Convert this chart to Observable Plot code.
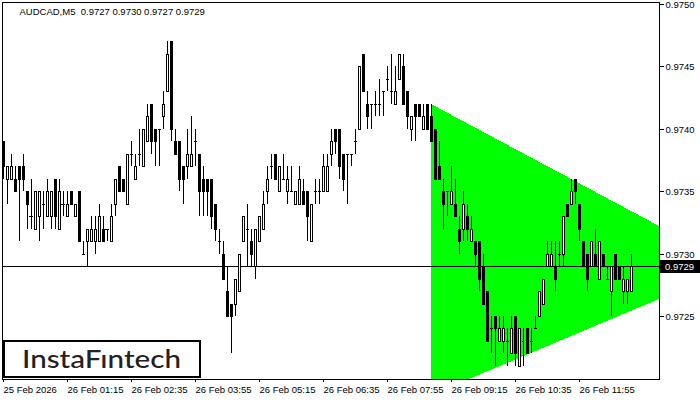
<!DOCTYPE html>
<html><head><meta charset="utf-8">
<script src="https://cdn.jsdelivr.net/npm/d3@7"></script>
<script src="https://cdn.jsdelivr.net/npm/@observablehq/plot@0.6"></script>
<style>
body{margin:0;background:#fff;}
#wrap{position:relative;width:700px;height:400px;overflow:hidden;background:#fff;}
</style></head><body><div id="wrap"></div>
<script>
const symbol = "AUDCAD,M5";
const lastOHLC = ["0.9727", "0.9730", "0.9727", "0.9729"];
const logoText = "InstaFıntech";

const open = [0.9739,0.9736,0.9736,0.9736,0.9737,0.9737,0.9735,0.9733,0.9732,0.9733,
0.9734,0.9733,0.9733,0.9736,0.9732,0.9734,0.9733,0.9735,0.9733,0.9735,
0.9730,0.9731,0.9731,0.9731,0.9731,0.9732,0.9732,0.9731,0.9734,0.9737,
0.9736,0.9734,0.9738,0.9736,0.9738,0.9737,0.9739,0.9742,0.9740,0.9740,
0.9741,0.9743,0.9747,0.9739,0.9739,0.9737,0.9737,0.9737,0.9739,0.9738,
0.9736,0.9736,0.9736,0.9734,0.9731,0.9730,0.9727,0.9726,0.9726,0.9727,
0.9731,0.9732,0.9731,0.9729,0.9731,0.9732,0.9735,0.9737,0.9738,0.9735,
0.9736,0.9735,0.9735,0.9734,0.9734,0.9735,0.9735,0.9731,0.9735,0.9735,
0.9735,0.9735,0.9738,0.9740,0.9740,0.9738,0.9738,0.9738,0.9739,0.9740,
0.9746,0.9742,0.9742,0.9742,0.9742,0.9743,0.9744,0.9743,0.9742,0.9744,
0.9745,0.9743,0.9740,0.9742,0.9742,0.9740,0.9742,0.9741,0.9740,0.9737,
0.9735,0.9735,0.9734,0.9734,0.9732,0.9732,0.9733,0.9731,0.9731,0.9731,
0.9729,0.9727,0.9724,0.9725,0.9723,0.9723,0.9723,0.9722,0.9725,0.9721,
0.9723,0.9724,0.9723,0.9724,0.9725,0.9726,0.9729,0.9729,0.9729,0.9730,
0.9730,0.9734,0.9734,0.9736,0.9734,0.9731,0.9730,0.9729,0.9730,0.9728,
0.9730,0.9728,0.9727,0.9730,0.9729,0.9727,0.9727,0.9727];

const high = [0.9739,0.9737,0.9738,0.9737,0.9737,0.9738,0.9735,0.9736,0.9735,0.9735,
0.9735,0.9736,0.9735,0.9736,0.9736,0.9735,0.9735,0.9735,0.9734,0.9735,
0.9731,0.9732,0.9733,0.9733,0.9734,0.9733,0.9732,0.9734,0.9736,0.9737,
0.9736,0.9738,0.9739,0.9738,0.9740,0.9740,0.9742,0.9742,0.9740,0.9740,
0.9743,0.9747,0.9747,0.9740,0.9739,0.9737,0.9740,0.9741,0.9740,0.9738,
0.9737,0.9736,0.9736,0.9734,0.9732,0.9731,0.9729,0.9726,0.9728,0.9730,
0.9733,0.9734,0.9732,0.9732,0.9733,0.9735,0.9737,0.9738,0.9738,0.9737,
0.9738,0.9737,0.9737,0.9735,0.9737,0.9736,0.9735,0.9734,0.9736,0.9736,
0.9738,0.9738,0.9740,0.9740,0.9740,0.9738,0.9738,0.9738,0.9740,0.9745,
0.9746,0.9743,0.9742,0.9743,0.9744,0.9743,0.9745,0.9746,0.9745,0.9746,
0.9746,0.9743,0.9741,0.9742,0.9742,0.9742,0.9742,0.9742,0.9740,0.9739,
0.9736,0.9735,0.9737,0.9736,0.9733,0.9735,0.9734,0.9733,0.9731,0.9731,
0.9730,0.9727,0.9725,0.9725,0.9725,0.9725,0.9724,0.9725,0.9725,0.9724,
0.9724,0.9724,0.9724,0.9725,0.9727,0.9728,0.9731,0.9731,0.9731,0.9731,
0.9733,0.9734,0.9736,0.9736,0.9734,0.9731,0.9730,0.9731,0.9732,0.9731,
0.9730,0.9729,0.9729,0.9730,0.9729,0.9729,0.9728,0.9730];

const low = [0.9736,0.9734,0.9736,0.9735,0.9731,0.9735,0.9732,0.9732,0.9732,0.9731,
0.9732,0.9733,0.9732,0.9732,0.9732,0.9733,0.9733,0.9734,0.9733,0.9731,
0.9730,0.9729,0.9731,0.9730,0.9731,0.9731,0.9731,0.9731,0.9733,0.9735,
0.9735,0.9734,0.9737,0.9736,0.9737,0.9737,0.9739,0.9738,0.9737,0.9737,
0.9740,0.9743,0.9739,0.9738,0.9735,0.9734,0.9736,0.9737,0.9737,0.9733,
0.9733,0.9733,0.9732,0.9731,0.9730,0.9728,0.9725,0.9722,0.9725,0.9727,
0.9731,0.9729,0.9729,0.9728,0.9731,0.9732,0.9734,0.9736,0.9736,0.9735,
0.9736,0.9734,0.9735,0.9734,0.9734,0.9734,0.9731,0.9731,0.9734,0.9734,
0.9735,0.9735,0.9737,0.9738,0.9736,0.9735,0.9734,0.9737,0.9738,0.9740,
0.9743,0.9740,0.9740,0.9741,0.9741,0.9741,0.9743,0.9742,0.9742,0.9744,
0.9742,0.9740,0.9739,0.9739,0.9741,0.9740,0.9740,0.9739,0.9736,0.9736,
0.9732,0.9733,0.9734,0.9733,0.9730,0.9731,0.9731,0.9731,0.9729,0.9727,
0.9726,0.9723,0.9722,0.9721,0.9723,0.9722,0.9721,0.9722,0.9721,0.9721,
0.9721,0.9722,0.9722,0.9724,0.9725,0.9726,0.9729,0.9729,0.9727,0.9729,
0.9729,0.9733,0.9734,0.9734,0.9731,0.9729,0.9727,0.9729,0.9729,0.9728,
0.9729,0.9728,0.9725,0.9728,0.9728,0.9726,0.9726,0.9727];

const close = [0.9737,0.9737,0.9737,0.9735,0.9736,0.9736,0.9734,0.9733,0.9735,0.9735,
0.9734,0.9735,0.9735,0.9733,0.9735,0.9734,0.9734,0.9734,0.9734,0.9731,
0.9730,0.9732,0.9732,0.9732,0.9733,0.9731,0.9732,0.9733,0.9736,0.9735,
0.9735,0.9738,0.9738,0.9737,0.9738,0.9740,0.9741,0.9739,0.9739,0.9740,
0.9742,0.9746,0.9740,0.9738,0.9736,0.9736,0.9738,0.9738,0.9739,0.9735,
0.9735,0.9735,0.9733,0.9732,0.9731,0.9728,0.9725,0.9725,0.9728,0.9730,
0.9733,0.9732,0.9730,0.9732,0.9733,0.9734,0.9736,0.9737,0.9736,0.9737,
0.9736,0.9736,0.9735,0.9735,0.9736,0.9734,0.9733,0.9734,0.9735,0.9735,
0.9737,0.9737,0.9739,0.9739,0.9737,0.9736,0.9738,0.9738,0.9739,0.9745,
0.9743,0.9741,0.9742,0.9742,0.9742,0.9743,0.9744,0.9743,0.9743,0.9746,
0.9742,0.9741,0.9741,0.9741,0.9741,0.9741,0.9740,0.9739,0.9736,0.9736,
0.9734,0.9735,0.9735,0.9733,0.9731,0.9734,0.9732,0.9732,0.9730,0.9728,
0.9726,0.9723,0.9724,0.9724,0.9724,0.9724,0.9723,0.9724,0.9722,0.9724,
0.9723,0.9722,0.9723,0.9724,0.9727,0.9728,0.9730,0.9730,0.9728,0.9730,
0.9733,0.9733,0.9735,0.9735,0.9732,0.9729,0.9728,0.9731,0.9729,0.9731,
0.9729,0.9728,0.9729,0.9728,0.9728,0.9728,0.9728,0.9729];

const currentPrice = 0.9729;

// symmetrical triangle: bar index of its two ends, upper and lower boundary prices
const triangleBars = [107, 164];
const triangleUpper = [0.9742, 0.97322];
const triangleLower = [0.97187, 0.97264];

const priceTicks = [0.9750, 0.9745, 0.9740, 0.9735, 0.9730, 0.9725];
const timeTickBars = [0, 16, 32, 48, 64, 80, 96, 112, 128, 144];
const timeTickLabels = ["25 Feb 2026", "26 Feb 01:15", "26 Feb 02:35", "26 Feb 03:55", "26 Feb 05:15",
  "26 Feb 06:35", "26 Feb 07:55", "26 Feb 09:15", "26 Feb 10:35", "26 Feb 11:55"];

const bars = open.map((o, i) => ({i, open: o, high: high[i], low: low[i], close: close[i]}));
const bodies = bars.filter(d => d.open !== d.close);
const dojis = bars.filter(d => d.open === d.close);
const tri = triangleBars.map((b, k) => ({bar: b, upper: triangleUpper[k], lower: triangleLower[k]}));
const title = symbol + "  " + lastOHLC.join(" ");

const font = "'Liberation Sans', Arial, sans-serif";

const chart = Plot.plot({
  width: 700, height: 400,
  marginLeft: 2, marginRight: 41, marginTop: 2, marginBottom: 21,
  style: {fontFamily: font, fontSize: "9.5px", background: "white", color: "black"},
  x: {domain: [-0.25, 164], round: true, axis: null},
  y: {domain: [0.9720, 0.9750], range: [378.4, 4], round: true, axis: null},
  marks: [
    Plot.areaY(tri, {x: "bar", y1: "lower", y2: "upper", fill: "#00ff00", clip: "frame", shapeRendering: "crispEdges"}),
    Plot.ruleY([currentPrice], {stroke: "black"}),
    Plot.ruleX(bars, {x: "i", y1: "low", y2: "high", stroke: "black"}),
    Plot.rect(bodies, {x1: d => d.i - 0.25, x2: d => d.i + 0.25, y1: "open", y2: "close", dx: 0.5, dy: 0.5,
      fill: d => d.close > d.open ? "white" : "black", stroke: "black", strokeWidth: 1}),
    Plot.ruleY(dojis, {y: "open", x1: d => d.i - 0.375, x2: d => d.i + 0.375, stroke: "black"}),
    Plot.frame({stroke: "black"}),
    Plot.axisY({anchor: "right", ticks: priceTicks, tickFormat: d => d.toFixed(4), tickSize: 4, tickPadding: 2, label: null, fill: "black"}),
    Plot.axisX({ticks: timeTickBars, tickFormat: d => timeTickLabels[timeTickBars.indexOf(d)], tickSize: 3, tickPadding: 4, textAnchor: "start", label: null, fill: "black"}),
    Plot.text([title], {frameAnchor: "top-left", dx: 17, dy: 6, textAnchor: "start", lineAnchor: "top", fill: "black"})
  ]
});

document.getElementById("wrap").appendChild(chart);

const svg = d3.select(chart);
const yp = chart.scale("y").apply(currentPrice);
svg.append("rect").attr("x", 660).attr("y", yp - 6).attr("width", 40).attr("height", 13).attr("fill", "black");
svg.append("text").attr("x", 665).attr("y", yp + 0.5).attr("dy", "0.35em").attr("fill", "white")
  .attr("text-anchor", "start")
  .attr("font-family", font).attr("font-size", "9.5px").text(currentPrice.toFixed(4));

svg.append("rect").attr("x", 4).attr("y", 341).attr("width", 196).attr("height", 36)
  .attr("fill", "white").attr("stroke", "black").attr("stroke-width", 2);
svg.append("text").attr("x", 22).attr("y", 368).attr("text-anchor", "start")
  .attr("font-family", "Lato, 'Noto Sans', sans-serif")
  .attr("font-size", "25px").attr("font-weight", 500).attr("fill", "#222")
  .attr("textLength", 159).attr("lengthAdjust", "spacingAndGlyphs").text(logoText);
</script></body></html>
